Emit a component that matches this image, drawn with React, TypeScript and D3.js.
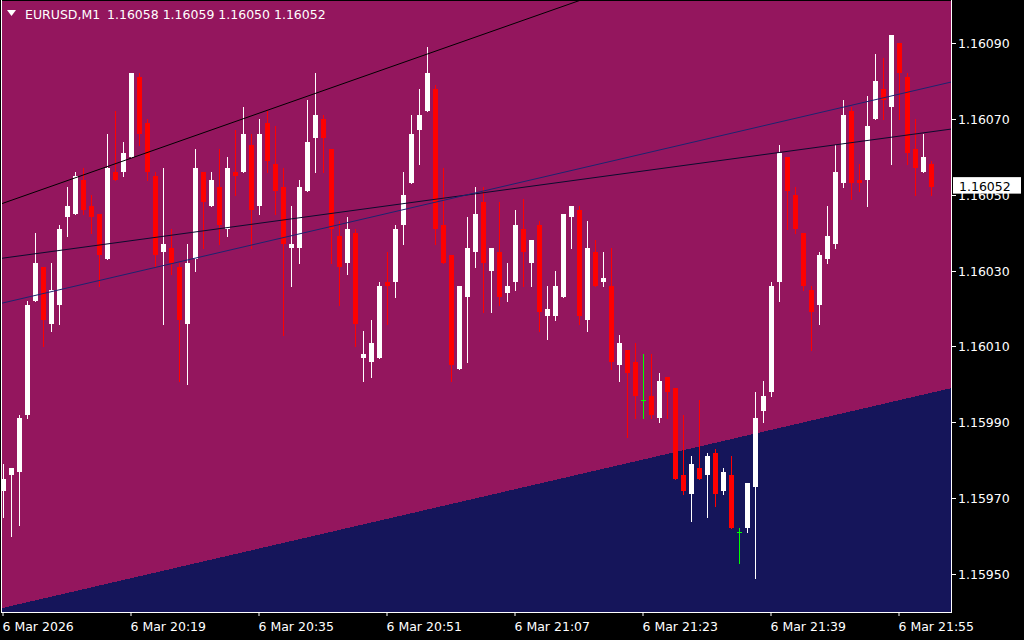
import React from 'react';
import * as d3 from 'd3';

// ---------- data (EURUSD M1, 6 Mar 2026, 20:03 .. 21:59) ----------
const OPEN = [
  1.15972, 1.15976, 1.15977, 1.15992, 1.16022, 1.16031, 1.16016, 1.16021, 1.16044, 1.16045,
  1.16054, 1.16047, 1.16045, 1.16033, 1.16056, 1.16056, 1.16060, 1.16081, 1.16069, 1.16055,
  1.16035, 1.16036, 1.16031, 1.16016, 1.16033, 1.16056, 1.16047, 1.16052, 1.16041, 1.16056,
  1.16056, 1.16063, 1.16047, 1.16069, 1.16058, 1.16052, 1.16036, 1.16036, 1.16051, 1.16065,
  1.16070, 1.16062, 1.16039, 1.16032, 1.16040, 1.16007, 1.16006, 1.16007, 1.16027, 1.16027,
  1.16042, 1.16053, 1.16067, 1.16072, 1.16078, 1.16042, 1.16034, 1.16004, 1.16023, 1.16035,
  1.16048, 1.16030, 1.16035, 1.16024, 1.16027, 1.16041, 1.16032, 1.16042, 1.16018, 1.16018,
  1.16023, 1.16044, 1.16046, 1.16017, 1.16035, 1.16027, 1.16026, 1.16005, 1.16009, 1.16006,
  1.15996, 1.15997, 1.15991, 1.16002, 1.15999, 1.15976, 1.15971, 1.15978, 1.15976, 1.15982,
  1.15972, 1.15976, 1.15961, 1.15962, 1.15973, 1.15993, 1.15998, 1.16027, 1.16060, 1.16050,
  1.16040, 1.16025, 1.16021, 1.16033, 1.16037, 1.16053, 1.16072, 1.16054, 1.16054, 1.16070,
  1.16078, 1.16073, 1.16090, 1.16081, 1.16062, 1.16056, 1.16058,
];
const HIGH = [
  1.15979, 1.15978, 1.15992, 1.16022, 1.16040, 1.16031, 1.16032, 1.16042, 1.16052, 1.16056,
  1.16057, 1.16050, 1.16045, 1.16066, 1.16072, 1.16064, 1.16082, 1.16082, 1.16070, 1.16056,
  1.16057, 1.16041, 1.16032, 1.16037, 1.16062, 1.16056, 1.16056, 1.16062, 1.16060, 1.16067,
  1.16073, 1.16066, 1.16070, 1.16072, 1.16068, 1.16057, 1.16047, 1.16054, 1.16075, 1.16082,
  1.16071, 1.16062, 1.16043, 1.16044, 1.16041, 1.16014, 1.16017, 1.16027, 1.16035, 1.16042,
  1.16056, 1.16071, 1.16078, 1.16089, 1.16079, 1.16057, 1.16034, 1.16026, 1.16044, 1.16052,
  1.16052, 1.16036, 1.16048, 1.16032, 1.16046, 1.16049, 1.16038, 1.16043, 1.16026, 1.16030,
  1.16045, 1.16047, 1.16047, 1.16043, 1.16038, 1.16035, 1.16036, 1.16013, 1.16009, 1.16011,
  1.16008, 1.16008, 1.16003, 1.16002, 1.15999, 1.15992, 1.15981, 1.15996, 1.15982, 1.15983,
  1.15978, 1.15981, 1.15962, 1.15974, 1.15998, 1.16001, 1.16027, 1.16063, 1.16060, 1.16052,
  1.16040, 1.16026, 1.16035, 1.16047, 1.16063, 1.16075, 1.16073, 1.16058, 1.16076, 1.16087,
  1.16086, 1.16092, 1.16090, 1.16082, 1.16070, 1.16066, 1.16059,
];
const LOW = [
  1.15965, 1.15960, 1.15963, 1.15991, 1.16022, 1.16010, 1.16014, 1.16016, 1.16039, 1.16045,
  1.16045, 1.16040, 1.16026, 1.16033, 1.16054, 1.16055, 1.16060, 1.16063, 1.16054, 1.16031,
  1.16016, 1.16029, 1.16001, 1.16000, 1.16030, 1.16036, 1.16047, 1.16037, 1.16039, 1.16050,
  1.16056, 1.16036, 1.16045, 1.16056, 1.16045, 1.16013, 1.16026, 1.16032, 1.16051, 1.16056,
  1.16056, 1.16032, 1.16021, 1.16029, 1.16010, 1.16001, 1.16002, 1.16007, 1.16016, 1.16023,
  1.16037, 1.16053, 1.16058, 1.16072, 1.16037, 1.16032, 1.16001, 1.16004, 1.16006, 1.16031,
  1.16019, 1.16019, 1.16021, 1.16022, 1.16025, 1.16026, 1.16026, 1.16014, 1.16012, 1.16017,
  1.16023, 1.16036, 1.16016, 1.16014, 1.16026, 1.16026, 1.16004, 1.16001, 1.15986, 1.15991,
  1.15991, 1.15991, 1.15990, 1.15991, 1.15975, 1.15971, 1.15964, 1.15975, 1.15965, 1.15968,
  1.15971, 1.15962, 1.15953, 1.15961, 1.15949, 1.15990, 1.15997, 1.16022, 1.16041, 1.16040,
  1.16025, 1.16009, 1.16016, 1.16032, 1.16036, 1.16052, 1.16049, 1.16051, 1.16047, 1.16070,
  1.16070, 1.16058, 1.16070, 1.16058, 1.16050, 1.16056, 1.16050,
];
const CLOSE = [
  1.15975, 1.15978, 1.15991, 1.16021, 1.16032, 1.16017, 1.16025, 1.16041, 1.16047, 1.16055,
  1.16046, 1.16044, 1.16034, 1.16057, 1.16054, 1.16061, 1.16082, 1.16066, 1.16056, 1.16034,
  1.16037, 1.16032, 1.16017, 1.16032, 1.16057, 1.16048, 1.16054, 1.16042, 1.16057, 1.16055,
  1.16066, 1.16046, 1.16066, 1.16059, 1.16051, 1.16037, 1.16037, 1.16052, 1.16064, 1.16071,
  1.16065, 1.16041, 1.16031, 1.16041, 1.16016, 1.16008, 1.16011, 1.16026, 1.16026, 1.16041,
  1.16050, 1.16066, 1.16071, 1.16082, 1.16041, 1.16032, 1.16005, 1.16026, 1.16036, 1.16045,
  1.16032, 1.16036, 1.16023, 1.16026, 1.16042, 1.16035, 1.16038, 1.16019, 1.16020, 1.16026,
  1.16045, 1.16047, 1.16018, 1.16036, 1.16026, 1.16028, 1.16006, 1.16011, 1.16003, 1.15997,
  1.15996, 1.15992, 1.16001, 1.15998, 1.15975, 1.15972, 1.15979, 1.15975, 1.15981, 1.15971,
  1.15977, 1.15962, 1.15961, 1.15974, 1.15991, 1.15997, 1.16026, 1.16061, 1.16051, 1.16041,
  1.16026, 1.16019, 1.16034, 1.16039, 1.16056, 1.16071, 1.16053, 1.16053, 1.16068, 1.16080,
  1.16075, 1.16092, 1.16082, 1.16061, 1.16057, 1.16060, 1.16052,
];

const PRICE_TICKS = [1.1595, 1.1597, 1.1599, 1.1601, 1.1603, 1.1605, 1.1607, 1.1609];
const TIME_TICK_BARS = [0, 16, 32, 48, 64, 80, 96, 112];
const TIME_TICK_LABELS = [
  '6 Mar 2026', '6 Mar 20:19', '6 Mar 20:35', '6 Mar 20:51',
  '6 Mar 21:07', '6 Mar 21:23', '6 Mar 21:39', '6 Mar 21:55',
];
// trend lines: [barIndex, price] anchor pairs
const LINE_STEEP = [[0, 1.160478], [60, 1.160923]];
const LINE_MID = [[0, 1.160333], [116, 1.160666]];
const LINE_CHANNEL = [[0, 1.160215], [116, 1.160785]];
const BAND_EDGE = [[0, 1.159411], [116, 1.159978]];

const SYMBOL = 'EURUSD,M1';

// ---------- layout ----------
const W = 1024;
const H = 640;
const PL = 2;
const PR = 951;
const PT = 1;
const PB = 612;
const FONT = '"DejaVu Sans", sans-serif';
const FS = 12.5;

const BG_PLOT = '#94165E';
const BG_BAND = '#15155A';

export default function App() {
  const n = OPEN.length;
  const x = d3.scaleLinear().domain([0, n - 1]).range([3.5, 3.5 + 8 * (n - 1)]);
  const y = d3.scaleLinear().domain([1.1595, 1.1609]).range([574, 43]);

  const lineAt = (pts: number[][], px: number) => {
    const x0 = x(pts[0][0]);
    const y0 = y(pts[0][1]);
    const x1 = x(pts[1][0]);
    const y1 = y(pts[1][1]);
    return y0 + ((px - x0) * (y1 - y0)) / (x1 - x0);
  };
  const linePath = (pts: number[][]) =>
    d3.line()([
      [PL, lineAt(pts, PL)],
      [PR + 1, lineAt(pts, PR + 1)],
    ]) as string;

  const bandPath =
    (d3.line()([
      [PL, lineAt(BAND_EDGE, PL)],
      [PR + 1, lineAt(BAND_EDGE, PR + 1)],
      [PR + 1, PB + 1],
      [PL, PB + 1],
    ]) as string) + 'Z';

  const last = n - 1;
  const lastY = y(CLOSE[last]);

  return (
    <svg width={W} height={H} style={{ display: 'block', position: 'absolute', left: 0, top: 0 }}>
      <defs>
        <clipPath id="plotClip">
          <rect x={PL} y={PT} width={PR - PL} height={PB - PT} />
        </clipPath>
      </defs>
      <rect x={0} y={0} width={W} height={H} fill="#000" />
      <rect x={PL} y={PT} width={PR - PL} height={PB - PT} fill={BG_PLOT} />
      <g clipPath="url(#plotClip)">
        <path d={bandPath} fill={BG_BAND} shapeRendering="crispEdges" />
        {OPEN.map((o, i) => {
          const c = CLOSE[i];
          const cx = x(i);
          const hiY = Math.round(y(HIGH[i]));
          const loY = Math.round(y(LOW[i]));
          const top = Math.round(y(Math.max(o, c)));
          const bot = Math.round(y(Math.min(o, c)));
          const doji = o === c;
          const color = doji ? '#00FF00' : c > o ? '#FFFFFF' : '#FF0000';
          return (
            <g key={i} shapeRendering="crispEdges">
              <rect x={cx - 0.5} y={hiY} width={1} height={Math.max(1, loY - hiY + 1)} fill={color} />
              {doji ? (
                <rect x={cx - 2.5} y={top} width={5} height={1} fill={color} />
              ) : (
                <rect x={cx - 2.5} y={top} width={5} height={Math.max(1, bot - top)} fill={color} />
              )}
            </g>
          );
        })}
        <path d={linePath(LINE_STEEP)} stroke="#000000" strokeWidth={1} fill="none" />
        <path d={linePath(LINE_MID)} stroke="#0B0B2E" strokeWidth={1} fill="none" />
        <path d={linePath(LINE_CHANNEL)} stroke="#1C2470" strokeWidth={1} fill="none" />
      </g>

      {/* frame */}
      <line x1={1.5} y1={0} x2={1.5} y2={PB + 0.5} stroke="#fff" />
      <line x1={PR + 0.5} y1={0} x2={PR + 0.5} y2={PB + 0.5} stroke="#fff" />
      <line x1={1} y1={PB + 0.5} x2={PR + 1} y2={PB + 0.5} stroke="#fff" />

      {/* header */}
      <path d="M7,10 L16,10 L11.5,16 Z" fill="#fff" />
      <text x={25} y={19} fill="#fff" fontFamily={FONT} fontSize={FS}>{SYMBOL}</text>
      <text x={107} y={19} fill="#fff" fontFamily={FONT} fontSize={FS}>
        {[OPEN[last], HIGH[last], LOW[last], CLOSE[last]].map((v) => v.toFixed(5)).join(' ')}
      </text>

      {/* price axis */}
      {PRICE_TICKS.map((p) => (
        <g key={p}>
          <line x1={PR + 1} x2={PR + 5} y1={Math.round(y(p)) + 0.5} y2={Math.round(y(p)) + 0.5} stroke="#fff" />
          <text x={958} y={y(p) + 5} fill="#fff" fontFamily={FONT} fontSize={FS}>
            {p.toFixed(5)}
          </text>
        </g>
      ))}
      <rect x={953} y={lastY - 10} width={68} height={16.5} fill="#fff" />
      <text x={959} y={lastY + 4} fill="#000" fontFamily={FONT} fontSize={FS}>
        {CLOSE[last].toFixed(5)}
      </text>

      {/* time axis */}
      {TIME_TICK_BARS.map((b, k) => (
        <g key={b}>
          <line x1={x(b) - 0.5 + 0.0} x2={x(b) - 0.5} y1={PB + 1} y2={PB + 4} stroke="#fff" />
          <text x={x(b) - 1} y={631} fill="#fff" fontFamily={FONT} fontSize={FS}>
            {TIME_TICK_LABELS[k]}
          </text>
        </g>
      ))}
    </svg>
  );
}
